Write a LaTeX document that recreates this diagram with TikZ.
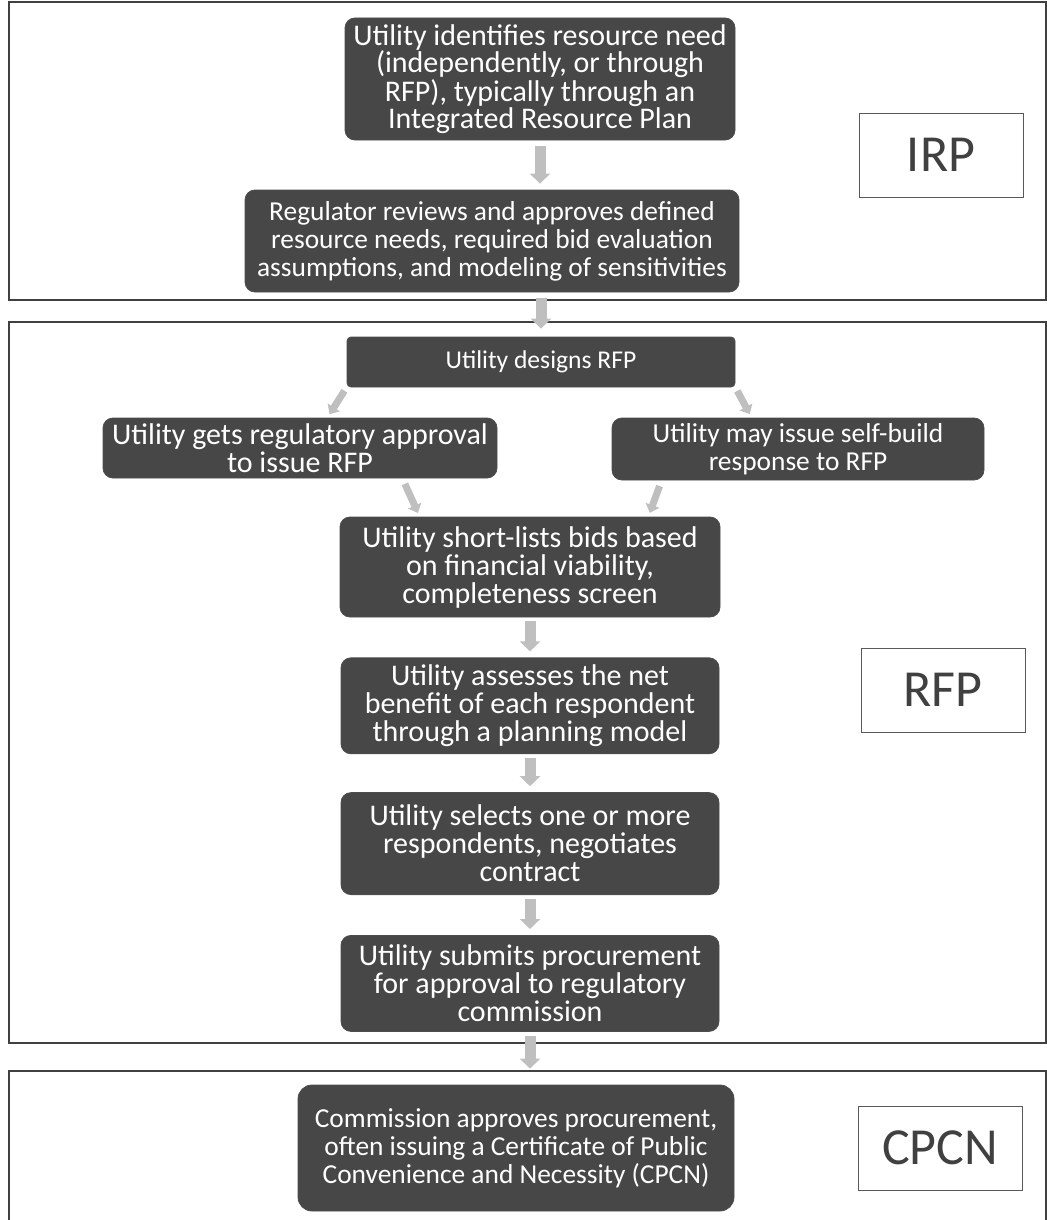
\documentclass[tikz,border=0pt]{standalone}
\usepackage{fontspec}
\setmainfont{Carlito}
\usepackage{tikz}
\usetikzlibrary{positioning, arrows.meta, calc}
\tikzset{
    stepbox/.style={rectangle, rounded corners=5pt, draw=black!70, fill=black!72, text=white, align=center, inner sep=0pt, font=\fontsize{15}{14}\selectfont},
    stepsmall/.style={stepbox, font=\fontsize{13.7}{14}\selectfont},
    tagbox/.style={rectangle, draw=black!65, fill=white, text=black!75, minimum width=82pt, minimum height=42pt, font=\fontsize{26}{28}\selectfont},
    sectionframe/.style={draw=black!75, line width=0.8pt},
    flowarrow/.style={-{Triangle[length=5pt, width=10pt]}, line width=5.5pt, draw=gray!50},
    sidearrow/.style={-{Triangle[length=4pt, width=7pt]}, line width=3.5pt, draw=gray!50},
}
\begin{document}
\begin{tikzpicture}[x=0.5pt, y=-0.5pt]
\useasboundingbox (0,0) rectangle (1047,1220);
% section frames
\draw[sectionframe] (9,2) rectangle (1046,300);
\draw[sectionframe] (9,322) rectangle (1046,1043);
\draw[sectionframe] (9,1222) -- (9,1071) -- (1046,1071) -- (1046,1222);
% IRP
\node[stepbox, font=\fontsize{15}{13.5}\selectfont, minimum width=195pt, minimum height=61pt] (need) at (540,79) {Utility identifies resource need\\(independently, or through\\RFP), typically through an\\Integrated Resource Plan};
\node[stepsmall, minimum width=247pt, minimum height=51pt] (review) at (492,241) {Regulator reviews and approves defined\\resource needs, required bid evaluation\\assumptions, and modeling of sensitivities};
\node[tagbox] (irp) at (941,155) {IRP};
% RFP
\node[stepbox, rounded corners=2pt, font=\fontsize{12.8}{13}\selectfont, minimum width=194pt, minimum height=25pt] (design) at (541,362) {Utility designs RFP};
\node[stepbox, minimum width=197pt, minimum height=30pt] (approval) at (300,448) {Utility gets regulatory approval\\to issue RFP};
\node[stepsmall, minimum width=186pt, minimum height=31pt] (selfbuild) at (798,449) {Utility may issue self-build\\response to RFP};
\node[stepbox, minimum width=190pt, minimum height=50pt] (shortlist) at (530,567) {Utility short-lists bids based\\on financial viability,\\completeness screen};
\node[stepbox, minimum width=189pt, minimum height=48pt, below=20pt of shortlist] (assess) {Utility assesses the net\\benefit of each respondent\\through a planning model};
\node[stepbox, minimum width=189pt, minimum height=51pt, below=19pt of assess] (select) {Utility selects one or more\\respondents, negotiates\\contract};
\node[stepbox, minimum width=189pt, minimum height=48pt, below=20pt of select] (submit) {Utility submits procurement\\for approval to regulatory\\commission};
\node[tagbox] (rfp) at (943,690) {RFP};
% CPCN
\node[stepsmall, rounded corners=7pt, minimum width=218pt, minimum height=63pt] (commission) at (516,1148) {Commission approves procurement,\\often issuing a Certificate of Public\\Convenience and Necessity (CPCN)};
\node[tagbox] (cpcn) at (940,1148) {CPCN};
% arrows
\draw[flowarrow, shorten <=3pt, shorten >=3pt] (need) -- (need.south |- review.north);
\draw[flowarrow, shorten <=3pt, shorten >=4pt] (design.north |- review.south) -- (design);
\draw[sidearrow, shorten <=2pt, shorten >=2pt] (design.south west) -- ($(approval.north east)+(-170,0)$);
\draw[sidearrow, shorten <=2pt, shorten >=2pt] (design.south east) -- ($(selfbuild.north west)+(140,0)$);
\draw[sidearrow, shorten <=3pt, shorten >=2pt] ($(approval.south east)+(-95,0)$) -- ($(shortlist.north west)+(80,0)$);
\draw[sidearrow, shorten <=3pt, shorten >=2pt] ($(selfbuild.south west)+(50,0)$) -- ($(shortlist.north east)+(-72,0)$);
\draw[flowarrow, shorten <=2pt, shorten >=3pt] (shortlist) -- (assess);
\draw[flowarrow, shorten <=2pt, shorten >=3pt] (assess) -- (select);
\draw[flowarrow, shorten <=2pt, shorten >=3pt] (select) -- (submit);
\draw[flowarrow, shorten <=2pt, shorten >=8pt] (submit.south) -- (submit.south |- commission.north);
\end{tikzpicture}
\end{document}
